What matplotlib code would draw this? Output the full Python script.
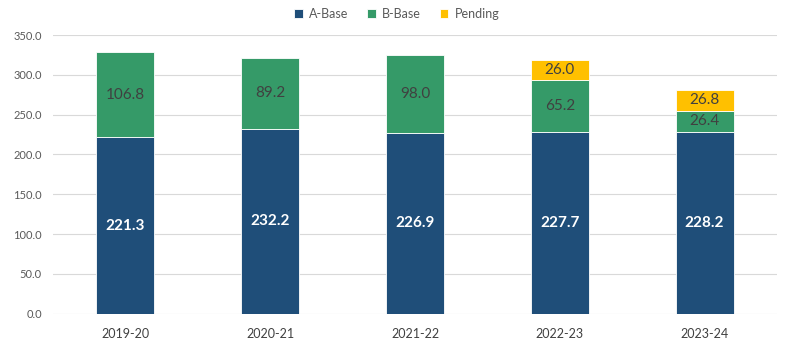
import matplotlib
matplotlib.use("Agg")
import matplotlib.pyplot as plt
import numpy as np

categories = ["2019-20", "2020-21", "2021-22", "2022-23", "2023-24"]
a_base = [221.3, 232.2, 226.9, 227.7, 228.2]
b_base = [106.8, 89.2, 98.0, 65.2, 26.4]
pending = [0, 0, 0, 26.0, 26.8]
yticks = [0, 50, 100, 150, 200, 250, 300, 350]

plt.rcParams['font.family'] = ['Lato', 'DejaVu Sans']

fig = plt.figure(figsize=(7.93, 3.49), dpi=100)
ax = fig.add_axes([53/793, 1-313.7/349, 724/793, (313.7-35)/349])

x = np.arange(len(categories))
w = 0.4
c_a, c_b, c_p = "#1F4E79", "#359A68", "#FFC000"
ax.bar(x, a_base, w, color=c_a, edgecolor="white", linewidth=0.6, label="A-Base", zorder=3)
ax.bar(x, b_base, w, bottom=a_base, color=c_b, edgecolor="white", linewidth=0.6, label="B-Base", zorder=3)
bot2 = [a + b for a, b in zip(a_base, b_base)]
pmask = [p > 0 for p in pending]
ax.bar(x[pmask], [p for p, m in zip(pending, pmask) if m], w,
       bottom=[b for b, m in zip(bot2, pmask) if m], color=c_p, edgecolor="white",
       linewidth=0.6, label="Pending", zorder=3)

for i in range(len(categories)):
    ax.text(x[i], a_base[i]/2, f"{a_base[i]:.1f}", ha="center", va="center",
            color="white", fontsize=11, fontweight="bold", zorder=4)
    ax.text(x[i], a_base[i] + b_base[i]/2, f"{b_base[i]:.1f}", ha="center", va="center",
            color="#404040", fontsize=11, zorder=4)
    if pending[i] > 0:
        ax.text(x[i], bot2[i] + pending[i]/2, f"{pending[i]:.1f}", ha="center", va="center",
                color="#404040", fontsize=11, zorder=4)

ax.set_xlim(-0.5, len(categories) - 0.5)
ax.set_ylim(0, 350)
ax.set_yticks(yticks)
ax.set_yticklabels([f"{v:.1f}" for v in yticks], fontsize=8, color="#595959")
ax.set_xticks(x)
ax.set_xticklabels(categories, fontsize=9, color="#404040")
ax.tick_params(length=0, pad=8)
ax.tick_params(axis='x', pad=10)
ax.grid(axis="y", color="#D9D9D9", linewidth=0.8, zorder=0)
for s in ax.spines.values():
    s.set_visible(False)

leg = fig.legend(loc="upper center", bbox_to_anchor=(0.5, 1.01), ncol=3, frameon=False,
                 fontsize=9, handlelength=0.7, handleheight=0.7, columnspacing=1.5,
                 handletextpad=0.5, labelcolor="#595959")

fig.savefig("out.png", dpi=100)
